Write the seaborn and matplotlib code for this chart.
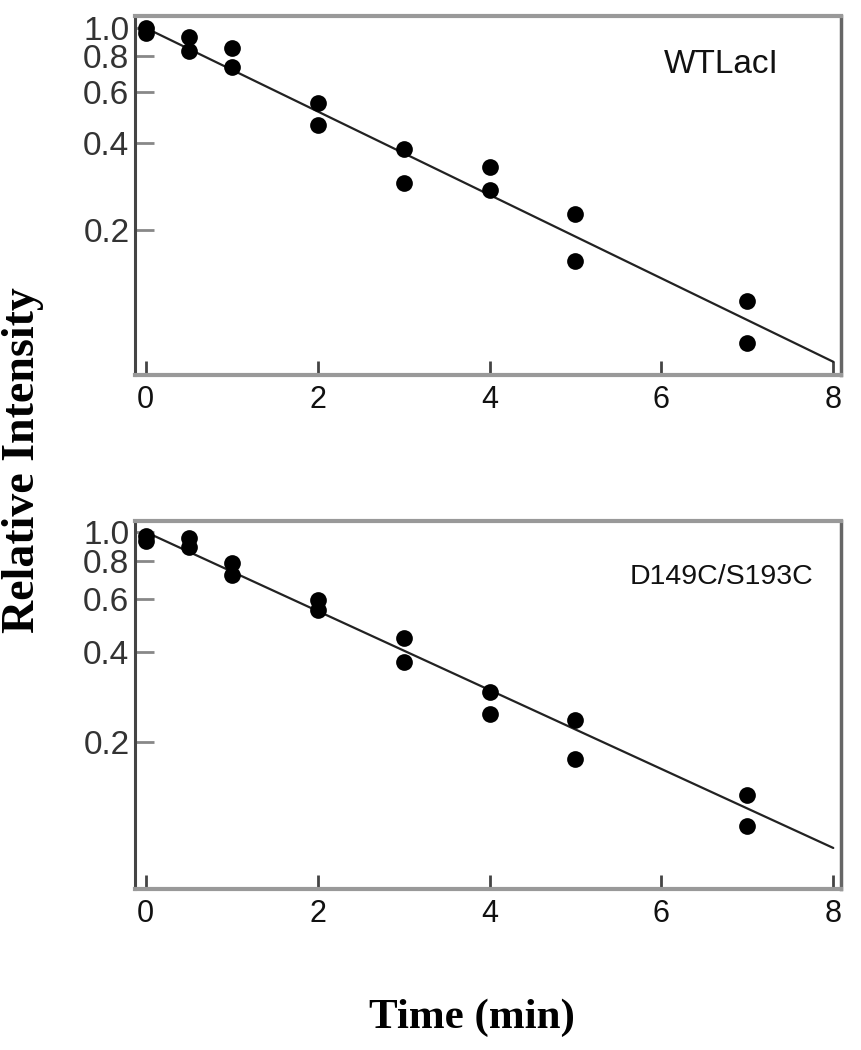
import matplotlib
matplotlib.use("Agg")
import matplotlib.pyplot as plt
import pandas as pd
import seaborn as sns

# Data (two replicates per time point)
time_min = [0, 0.5, 1, 2, 3, 4, 5, 7]
wt_rep1 = [1.00, 0.93, 0.85, 0.55, 0.38, 0.33, 0.227, 0.114]
wt_rep2 = [0.96, 0.83, 0.73, 0.46, 0.29, 0.275, 0.156, 0.081]
mut_rep1 = [0.97, 0.955, 0.79, 0.594, 0.444, 0.293, 0.237, 0.134]
mut_rep2 = [0.93, 0.89, 0.72, 0.55, 0.369, 0.248, 0.176, 0.105]

# exponential fit lines (straight on log axis), end points
fit_time = [0, 8]
wt_fit = [1.0, 0.07]
mut_fit = [1.0, 0.089]

panel_names = ["WTLacI", "D149C/S193C"]
x_ticks = [0, 2, 4, 6, 8]
y_ticks = [0.2, 0.4, 0.6, 0.8, 1.0]
y_tick_labels = ["0.2", "0.4", "0.6", "0.8", "1.0"]

sns.set_style("white")
plt.rcParams["font.family"] = ["Liberation Sans", "DejaVu Sans"]

fig = plt.figure(figsize=(8.61, 10.5), dpi=100)
W, H = 861, 1050
ax_top = fig.add_axes([135 / W, 1 - 375 / H, 706 / W, 359 / H])
ax_bot = fig.add_axes([135 / W, 1 - 889 / H, 706 / W, 368 / H])

panels = [
    (ax_top, wt_rep1, wt_rep2, wt_fit, panel_names[0], (0.063, 1.10), 0.864, 24),
    (ax_bot, mut_rep1, mut_rep2, mut_fit, panel_names[1], (0.065, 1.088), 0.848, 20.5),
]

for ax, rep1, rep2, fit, name, ylim, label_y, label_size in panels:
    pts = pd.DataFrame({
        "time": time_min + time_min,
        "intensity": rep1 + rep2,
    })
    fit_df = pd.DataFrame({"time": fit_time, "intensity": fit})

    ax.set_yscale("log")
    sns.lineplot(data=fit_df, x="time", y="intensity", ax=ax,
                 color="#222222", linewidth=1.6)
    sns.scatterplot(data=pts, x="time", y="intensity", ax=ax,
                    color="black", s=145, edgecolor="black", linewidth=0,
                    zorder=3)

    ax.set_xlim(-0.125, 8.09)
    ax.set_ylim(*ylim)
    ax.set_xticks(x_ticks)
    ax.set_xticklabels([str(t) for t in x_ticks])
    ax.set_yticks(y_ticks)
    ax.set_yticklabels(y_tick_labels)
    ax.minorticks_off()
    ax.set_xlabel("")
    ax.set_ylabel("")

    ax.tick_params(axis="x", direction="in", length=10, width=2,
                   color="#444444", labelsize=22, pad=7, bottom=True,
                   labelcolor="#111111")
    ax.tick_params(axis="y", direction="in", length=14, width=2,
                   color="#888888", labelsize=24, pad=4, left=True,
                   labelcolor="#333333")

    for side in ["top", "bottom"]:
        ax.spines[side].set_color("#999999")
        ax.spines[side].set_linewidth(3)
    ax.spines["left"].set_color("#444444")
    ax.spines["left"].set_linewidth(2.2)
    ax.spines["right"].set_color("#666666")
    ax.spines["right"].set_linewidth(2.5)

    ax.text(0.831, label_y, name, transform=ax.transAxes, ha="center",
            va="center", fontsize=label_size, color="#111111")

fig.text(472 / W, 1 - 1018 / H, "Time (min)", ha="center", va="center",
         fontsize=31, fontweight="bold", color="black",
         family=["Liberation Serif"])
fig.text(23 / W, 1 - 460 / H, "Relative Intensity", ha="center",
         va="center", rotation=90, fontsize=33, fontweight="bold",
         color="black", family=["Liberation Serif"])

fig.savefig("out.png", dpi=100)
